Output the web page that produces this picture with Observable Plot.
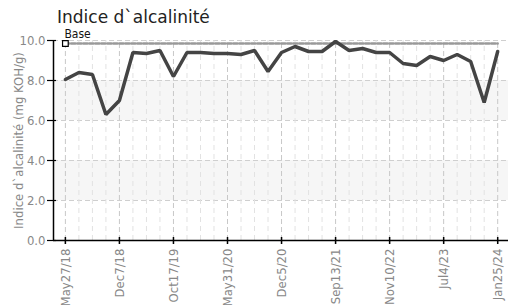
<!DOCTYPE html>
<html><head><meta charset="utf-8">
<script src="https://cdn.jsdelivr.net/npm/d3@7"></script>
<script src="https://cdn.jsdelivr.net/npm/@observablehq/plot@0.6"></script>
<style>
body{margin:0;background:#fff;}
#wrap{position:relative;width:508px;height:305px;}
#title{position:absolute;left:57px;top:7px;font:17px 'DejaVu Sans',sans-serif;color:#222;white-space:nowrap;}
</style></head>
<body><div id="wrap"><div id="title">Indice d`alcalinité</div></div>
<script>
const tickLabels = ["May27/18","Dec7/18","Oct17/19","May31/20","Dec5/20","Sep13/21","Nov10/22","Jul4/23","Jan25/24"];
const values = [8.05,8.4,8.3,6.3,7.0,9.4,9.35,9.5,8.2,9.4,9.4,9.35,9.35,9.3,9.5,8.45,9.4,9.7,9.45,9.45,9.95,9.5,9.6,9.4,9.4,8.85,8.75,9.2,9.0,9.3,8.95,6.9,9.45];
const baseValue = 9.85;
const yTicks = [0,2,4,6,8,10];
const bands = [{y1:2,y2:4},{y1:6,y2:8}];
const tickEvery = 4;

const idx = values.map((v,i)=>i);
const tickIdx = tickLabels.map((d,i)=>i*tickEvery);
const minorIdx = idx.filter(i=>i%tickEvery!==0);
const data = values.map((v,i)=>({i, v}));
const baseData = idx.map(i=>({i, v: baseValue}));
const xDom = [-0.88, values.length-1+0.8];
const yTop = 10;

const font = "'DejaVu Sans Condensed',sans-serif";
const chart = Plot.plot({
  width: 508, height: 305,
  marginLeft: 53, marginRight: 0, marginTop: 40, marginBottom: 65,
  style: {fontFamily: font, fontSize: "12px", background: "transparent"},
  x: {type: "linear", domain: xDom, axis: null},
  y: {type: "linear", domain: [0,10], axis: null},
  marks: [
    Plot.rect(bands, {x1: () => xDom[0], x2: () => xDom[1], y1: "y1", y2: "y2", fill: "#f6f6f6"}),
    Plot.ruleY(yTicks.slice(1), {stroke: "#cfcfcf", strokeDasharray: "5,3"}),
    Plot.ruleX(minorIdx, {y1: () => 0, y2: () => yTop, stroke: "#e2e2e2", strokeDasharray: "5,4"}),
    Plot.ruleX(tickIdx, {y1: () => 0, y2: () => yTop, stroke: "#c8c8c8", strokeDasharray: "5,3"}),
    Plot.axisY({ticks: yTicks, tickFormat: d3.format(".1f"), tickSize: 6, tickPadding: 2, color: "#888", fontSize: 13,
      label: "Indice d`alcalinité (mg KOH/g)", labelAnchor: "center", labelArrow: "none", labelOffset: 40}),
    Plot.axisX({ticks: tickIdx, tickFormat: i => tickLabels[i/tickEvery], tickRotate: -90, tickSize: 4, tickPadding: 4, color: "#888", fontSize: 13, label: null}),
    Plot.ruleX(tickIdx, {y1: () => 0, y2: () => 0, insetTop: -3, insetBottom: -4, stroke: "#000", strokeWidth: 1.5}),
    Plot.ruleY(yTicks, {x1: () => xDom[0], x2: () => xDom[0], insetLeft: -6, insetRight: -3, stroke: "#000", strokeWidth: 1.2}),
    Plot.ruleY([0], {stroke: "#000", strokeWidth: 1.5}),
    Plot.ruleX([xDom[0]], {y1: () => 0, y2: () => yTop, stroke: "#000", strokeWidth: 1.5}),
    Plot.line(baseData, {x: "i", y: "v", stroke: "#999", strokeWidth: 2.5, strokeDasharray: "4,2"}),
    Plot.line(data, {x: "i", y: "v", stroke: "#444", strokeWidth: 3.5, strokeLinejoin: "miter"}),
    Plot.dot(baseData.slice(0,1), {x: "i", y: "v", symbol: "square", r: 3.2, fill: "#fff", stroke: "#000", strokeWidth: 1.2}),
    Plot.text(baseData.slice(0,1), {x: "i", y: "v", text: () => "Base", dy: -9, dx: -1, textAnchor: "start", fill: "#111", fontSize: 12})
  ]
});
chart.style.position = "absolute"; chart.style.left = "0"; chart.style.top = "0";
document.getElementById("wrap").appendChild(chart);
</script></body></html>
